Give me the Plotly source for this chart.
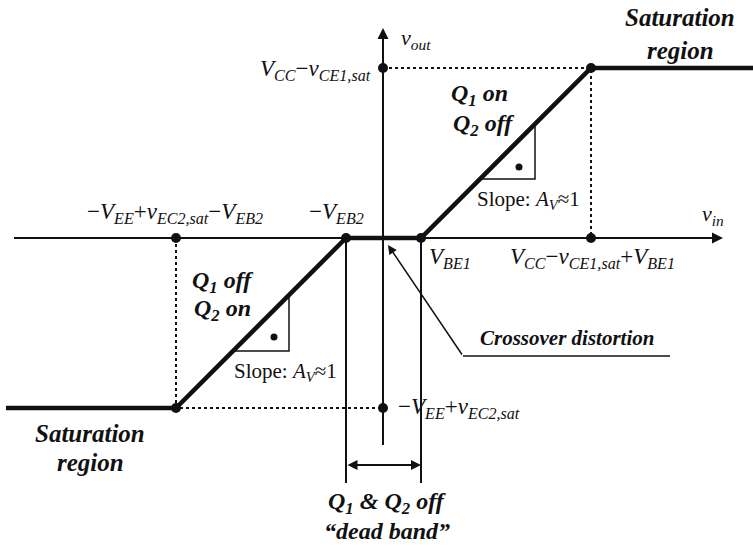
import plotly.graph_objects as go

# ---- data (diagram units: 1 unit ~ 10 px) ----
VSAT = 17.0
VEB2 = 3.7
VBE1 = 3.8
vin_curve = [-37.7, -20.7, -3.7, 3.8, 20.8, 37.0]
vout_curve = [-17.0, -17.0, 0.0, 0.0, 17.0, 17.0]
dot_vin = [-20.7, -3.7, 3.8, 20.8, 0.0, 20.8, -20.7, 0.0]
dot_vout = [0.0, 0.0, 0.0, 0.0, 17.0, 17.0, -17.0, -17.0]

FONT = "Liberation Serif, Times New Roman, serif"
fig = go.Figure()

def line(xs, ys, w=2, dash=None, color="#111"):
    fig.add_trace(go.Scatter(x=xs, y=ys, mode="lines", hoverinfo="skip",
                             line=dict(color=color, width=w, dash=dash), showlegend=False))

# axes
line([-36.9, 33.0], [0, 0], w=2)
line([0, 0], [-20.7, 20.0], w=2)
# dotted guides
line([-20.7, -20.7, 0], [0, -17.0, -17.0], w=2, dash="dot")
line([0, 20.8, 20.8], [17.0, 17.0, 0], w=2, dash="dot")
# dead band verticals
line([-VEB2, -VEB2], [0, -24.5], w=2)
line([VBE1, VBE1], [0, -24.5], w=2)
# crossover pointer
line([28.7, 8.0], [-11.8, -11.8], w=1.5)
# right-angle markers
line([15.2, 15.2, 9.7], [11.4, 5.9, 5.9], w=1.5)
line([-9.4, -9.4, -15.0], [-5.7, -11.3, -11.3], w=1.5)
fig.add_trace(go.Scatter(x=[13.6, -10.9], y=[7.1, -9.9], mode="markers", hoverinfo="skip",
                         marker=dict(color="#111", size=7), showlegend=False))
# transfer curve
line(vin_curve, vout_curve, w=4.5)
fig.add_trace(go.Scatter(x=dot_vin, y=dot_vout, mode="markers", hoverinfo="skip",
                         marker=dict(color="#111", size=10), showlegend=False))

# arrows
def arrow(x, y, ax, ay, w=2, head=2, side="end", size=1.0):
    fig.add_annotation(x=x, y=y, ax=ax, ay=ay, xref="x", yref="y", axref="x", ayref="y",
                       showarrow=True, arrowhead=head, arrowsize=size, arrowwidth=w,
                       arrowcolor="#111", arrowside=side, text="")

arrow(34.0, 0, 30.0, 0, w=2, head=2, size=1.1)
arrow(0, 21.0, 0, 17.5, w=2, head=2, size=1.1)
arrow(0.5, -0.7, 8.0, -11.8, w=1.5, head=2, size=1.2)
arrow(VBE1, -22.7, -VEB2, -22.7, w=2, head=2, side="end+start", size=1.0)

def txt(x, y, s, size=20, anchor="center", color="#111"):
    fig.add_annotation(x=x, y=y, xref="x", yref="y", text=s, showarrow=False,
                       xanchor=anchor, yanchor="middle",
                       font=dict(family=FONT, size=size, color=color))

def V(main, sub):
    return f"<i>{main}</i><sub><i>{sub}</i></sub>"

LS = 23
txt(1.6, 19.9, V("v", "out"), 22, "left")
txt(31.7, 2.3, V("v", "in"), 22, "left")
txt(-1.0, 16.8, V("V", "CC") + "−" + V("v", "CE1,sat"), LS, "right")
txt(-20.8, 2.5, "−" + V("V", "EE") + "+" + V("v", "EC2,sat") + "−" + V("V", "EB2"), LS)
txt(-4.7, 2.5, "−" + V("V", "EB2"), LS)
txt(4.4, -2.0, V("V", "BE1"), LS, "left")
txt(20.9, -2.0, V("V", "CC") + "−" + V("v", "CE1,sat") + "+" + V("V", "BE1"), LS)
txt(1.3, -17.0, "−" + V("V", "EE") + "+" + V("v", "EC2,sat"), LS, "left")

B = lambda s: f"<b><i>{s}</i></b>"
BS = 25
txt(29.7, 22.1, B("Saturation"), BS)
txt(29.7, 18.8, B("region"), BS)
txt(-29.3, -19.5, B("Saturation"), BS)
txt(-29.3, -22.4, B("region"), BS)
txt(9.6, 14.3, B("Q<sub>1</sub> on"), 24)
txt(10.0, 11.3, B("Q<sub>2</sub> off"), 24)
txt(-16.1, -4.4, B("Q<sub>1</sub> off"), 24)
txt(-16.1, -7.2, B("Q<sub>2</sub> on"), 24)
txt(0.4, -26.5, B("Q<sub>1</sub> &amp; Q<sub>2</sub> off"), 24)
txt(0.4, -29.3, B("“dead band”"), 24)
txt(18.4, -10.0, B("Crossover distortion"), 21)
txt(9.2, 3.8, "Slope: " + V("A", "V") + "≈1", 21, "left")
txt(-15.1, -13.4, "Slope: " + V("A", "V") + "≈1", 21, "left")

fig.update_xaxes(range=[-38.3, 37.0], visible=False, fixedrange=True)
fig.update_yaxes(range=[-31.0, 23.8], visible=False, fixedrange=True)
fig.update_layout(width=753, height=548, margin=dict(l=0, r=0, t=0, b=0),
                  plot_bgcolor="white", paper_bgcolor="white", showlegend=False)
fig.write_html("out.html", config={"displayModeBar": False, "staticPlot": True},
               post_script="document.body.style.margin='0';")
